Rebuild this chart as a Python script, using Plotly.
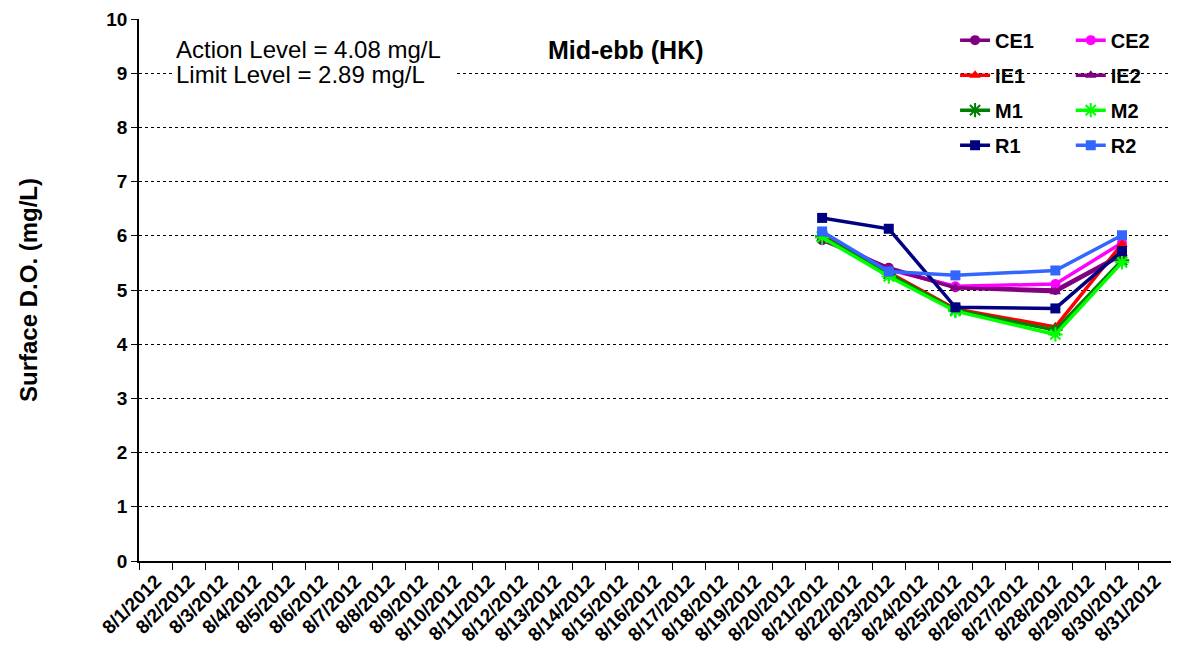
import plotly.graph_objects as go

categories = ["8/1/2012", "8/2/2012", "8/3/2012", "8/4/2012", "8/5/2012", "8/6/2012",
              "8/7/2012", "8/8/2012", "8/9/2012", "8/10/2012", "8/11/2012", "8/12/2012",
              "8/13/2012", "8/14/2012", "8/15/2012", "8/16/2012", "8/17/2012", "8/18/2012",
              "8/19/2012", "8/20/2012", "8/21/2012", "8/22/2012", "8/23/2012", "8/24/2012",
              "8/25/2012", "8/26/2012", "8/27/2012", "8/28/2012", "8/29/2012", "8/30/2012",
              "8/31/2012"]

sample_dates = ["8/21/2012", "8/23/2012", "8/25/2012", "8/28/2012", "8/30/2012"]

CE1 = [5.92, 5.41, 5.05, 5.00, 5.66]
CE2 = [6.02, 5.37, 5.07, 5.11, 5.87]
IE1 = [6.00, 5.33, 4.65, 4.32, 5.85]
IE2 = [5.96, 5.40, 5.04, 4.97, 5.64]
M1 = [5.99, 5.30, 4.63, 4.26, 5.55]
M2 = [5.97, 5.25, 4.61, 4.18, 5.51]
R1 = [6.33, 6.13, 4.68, 4.66, 5.72]
R2 = [6.08, 5.34, 5.27, 5.36, 6.01]

y_ticks = [0, 1, 2, 3, 4, 5, 6, 7, 8, 9, 10]

FONT = "Liberation Sans, Arial, sans-serif"

series = [
    ("CE1", CE1, "#800080", "circle", "legend"),
    ("CE2", CE2, "#FF00FF", "circle", "legend2"),
    ("IE1", IE1, "#FF0000", "triangle-up", "legend"),
    ("IE2", IE2, "#800080", "triangle-up", "legend2"),
    ("M1", M1, "#008000", "asterisk", "legend"),
    ("M2", M2, "#00FF00", "asterisk", "legend2"),
    ("R1", R1, "#000080", "square", "legend"),
    ("R2", R2, "#3366FF", "square", "legend2"),
]

fig = go.Figure()
for name, vals, color, sym, leg in series:
    marker = dict(symbol=sym, size=10, color=color)
    if sym == "asterisk":
        marker.update(size=12, line=dict(color=color, width=2))
    fig.add_trace(go.Scatter(
        x=sample_dates, y=vals, name=name, mode="lines+markers",
        line=dict(color=color, width=3.5), marker=marker,
        legend=leg, legendgroup=name,
    ))

legend_common = dict(
    bgcolor="rgba(0,0,0,0)", borderwidth=0, tracegroupgap=6,
    traceorder="grouped",
    font=dict(family=FONT, size=20, color="black", weight="bold"),
    xanchor="left", yanchor="top", itemwidth=30,
)

fig.update_layout(
    width=1171, height=642,
    margin=dict(l=131, r=7, t=11, b=89),
    paper_bgcolor="white", plot_bgcolor="white",
    font=dict(family=FONT, color="black"),
    showlegend=True,
    legend=dict(x=0.79, y=0.997, **legend_common),
    legend2=dict(x=0.902, y=0.997, **legend_common),
    xaxis=dict(
        type="category", categoryorder="array", categoryarray=categories,
        tickmode="array", tickvals=categories, ticktext=categories,
        range=[-0.5, len(categories) - 0.5], automargin=False,
        tickson="boundaries", ticks="outside", ticklen=7, tickcolor="black",
        tickangle=-45, showgrid=False, showline=True, linecolor="black", linewidth=1.5,
        tickfont=dict(family=FONT, size=19, color="black", weight="bold"),
        zeroline=False,
    ),
    yaxis=dict(
        range=[0, 10], tickmode="array", tickvals=y_ticks, automargin=False,
        ticks="outside", ticklen=6, tickcolor="black",
        showline=True, linecolor="black", linewidth=1.5,
        showgrid=True, gridcolor="black", griddash="dot", gridwidth=1,
        zeroline=False,
        tickfont=dict(family=FONT, size=19, color="black", weight="bold"),
        title=dict(text="Surface D.O. (mg/L)", standoff=62,
                   font=dict(family=FONT, size=24, color="black", weight="bold")),
    ),
    shapes=[
        dict(type="rect", xref="paper", yref="paper", x0=0.785, x1=1.0,
             y0=0.74, y1=0.995, fillcolor="white", line=dict(width=0),
             layer="between"),
    ],
    annotations=[
        dict(text="Limit Level = 2.89 mg/L\u00a0\u00a0\u00a0\u00a0",
             xref="paper", yref="paper", x=0.032, y=0.898, xanchor="left", yanchor="middle",
             align="left", showarrow=False, bgcolor="white", borderpad=3,
             font=dict(family=FONT, size=24, color="black")),
        dict(text="Action Level = 4.08 mg/L",
             xref="paper", yref="paper", x=0.035, y=0.944, xanchor="left", yanchor="middle",
             align="left", showarrow=False, bgcolor="white", borderpad=0,
             font=dict(family=FONT, size=24, color="black")),
        dict(text="Mid-ebb (HK)", xref="paper", yref="paper", x=0.471, y=0.942,
             xanchor="center", yanchor="middle", showarrow=False,
             font=dict(family=FONT, size=25, color="black", weight="bold")),
    ],
)

fig.write_html("out.html")
